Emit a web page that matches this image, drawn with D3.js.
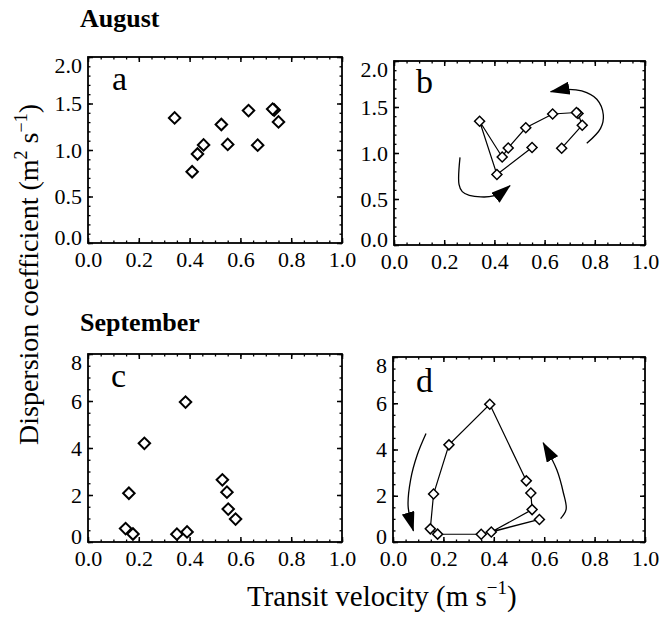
<!DOCTYPE html>
<html>
<head>
<meta charset="utf-8">
<script src="https://cdn.jsdelivr.net/npm/d3@7"></script>
<style>
  body { margin: 0; background: #fff; }
  svg { display: block; }
  text { font-family: "Liberation Serif", "Times New Roman", serif; fill: #000; }
</style>
</head>
<body>
<div id="chart"></div>
<script>
const serif = '"Liberation Serif", "Times New Roman", serif'

// August, in time order (transit velocity m/s, dispersion m2/s)
const augVel  = [0.668, 0.750, 0.733, 0.727, 0.632, 0.525, 0.455, 0.431, 0.341, 0.410, 0.550]
const augDisp = [1.052, 1.302, 1.430, 1.440, 1.424, 1.274, 1.055, 0.957, 1.345, 0.766, 1.060]

// September, in time order
const sepVel  = [0.529, 0.384, 0.222, 0.161, 0.148, 0.177, 0.350, 0.581, 0.390, 0.552, 0.547]
const sepDisp = [2.645, 5.955, 4.200, 2.075, 0.570, 0.340, 0.335, 0.975, 0.430, 1.400, 2.120]

// hand drawn arrows (data units)
const augArrowTopVel  = [0.768, 0.823, 0.834, 0.808, 0.748, 0.694, 0.624]
const augArrowTopDisp = [1.105, 1.268, 1.413, 1.584, 1.674, 1.692, 1.666]
const augArrowBotVel  = [0.263, 0.259, 0.272, 0.300, 0.396, 0.462]
const augArrowBotDisp = [0.953, 0.660, 0.580, 0.540, 0.533, 0.645]
const sepArrowLeftVel   = [0.131, 0.096, 0.070, 0.060, 0.081]
const sepArrowLeftDisp  = [4.69, 3.76, 2.70, 1.55, 0.48]
const sepArrowRightVel  = [0.665, 0.687, 0.676, 0.650, 0.596]
const sepArrowRightDisp = [1.01, 1.41, 2.13, 3.12, 4.29]

const xTicks = [0, 0.2, 0.4, 0.6, 0.8, 1.0]
const augYTicks = [0, 0.5, 1.0, 1.5, 2.0]
const sepYTicks = [0, 2, 4, 6, 8]

const zip = (xs, ys) => xs.map((v, i) => ({x: v, y: ys[i]}))
const aug = zip(augVel, augDisp)
const sep = zip(sepVel, sepDisp)

const width = 672, height = 617

const svg = d3.select('#chart').append('svg')
    .attr('width', width)
    .attr('height', height)

const defs = svg.append('defs')
defs.append('marker')
    .attr('id', 'head')
    .attr('markerUnits', 'userSpaceOnUse')
    .attr('viewBox', '0 0 20 13')
    .attr('markerWidth', 20)
    .attr('markerHeight', 13)
    .attr('refX', 19)
    .attr('refY', 6.5)
    .attr('orient', 'auto')
  .append('path')
    .attr('d', 'M0,0 L20,6.5 L0,13 Z')
    .attr('fill', '#000')

const panels = [
    {name: 'a', box: [88, 342, 243, 57], ymax: 2, yTicks: augYTicks, yMinor: 0.1, data: aug, joined: false, size: 66, sw: 2, lab: [112, 90]},
    {name: 'b', box: [394, 645, 245, 61], ymax: 2, yTicks: augYTicks, yMinor: 0.1, data: aug, joined: true, size: 50, sw: 1.5, lab: [416, 93],
        arrows: [zip(augArrowTopVel, augArrowTopDisp), zip(augArrowBotVel, augArrowBotDisp)]},
    {name: 'c', box: [88, 342, 542, 354], ymax: 8, yTicks: sepYTicks, yMinor: 0.5, data: sep, joined: false, size: 66, sw: 2, lab: [111, 387]},
    {name: 'd', box: [393, 645, 542, 357], ymax: 8, yTicks: sepYTicks, yMinor: 0.5, data: sep, joined: true, size: 50, sw: 1.5, lab: [416, 392],
        arrows: [zip(sepArrowLeftVel, sepArrowLeftDisp), zip(sepArrowRightVel, sepArrowRightDisp)]}
]

panels.forEach(p => {
    const [x0, x1, y0, y1] = p.box
    const x = d3.scaleLinear().domain([0, 1]).range([x0, x1])
    const y = d3.scaleLinear().domain([0, p.ymax]).range([y0, y1])
    const g = svg.append('g').attr('class', 'panel-' + p.name)

    const xMinor = d3.range(0, 1.0001, 0.05)
    const yMinor = d3.range(0, p.ymax + 1e-6, p.yMinor)

    // minor ticks, all four sides, pointing in
    const minor = [
        [d3.axisBottom(x).tickValues(xMinor), `translate(0,${y0})`],
        [d3.axisTop(x).tickValues(xMinor), `translate(0,${y1})`],
        [d3.axisLeft(y).tickValues(yMinor), `translate(${x0},0)`],
        [d3.axisRight(y).tickValues(yMinor), `translate(${x1},0)`]
    ]
    minor.forEach(([ax, tr]) => {
        g.append('g').attr('transform', tr)
            .call(ax.tickSize(-2.5).tickFormat(''))
            .call(s => s.select('.domain').remove())
            .selectAll('line').attr('stroke-width', 1.3)
    })
    const major = [
        [d3.axisBottom(x).tickValues(xTicks).tickFormat(d3.format('.1f')).tickPadding(8), `translate(0,${y0})`],
        [d3.axisTop(x).tickValues(xTicks).tickFormat(''), `translate(0,${y1})`],
        [d3.axisLeft(y).tickValues(p.yTicks).tickFormat(p.ymax > 2 ? d3.format('d') : d3.format('.1f')).tickPadding(6), `translate(${x0},0)`],
        [d3.axisRight(y).tickValues(p.yTicks).tickFormat(''), `translate(${x1},0)`]
    ]
    major.forEach(([ax, tr], i) => {
        const a = g.append('g').attr('transform', tr)
            .call(ax.tickSize(-5))
            .call(s => s.select('.domain').remove())
            .attr('font-family', serif)
            .attr('font-size', 22)
        a.selectAll('line').attr('stroke-width', 1.5)
        a.selectAll('text').attr('font-family', serif).attr('font-size', 22)
        if (i === 2) {
            // end labels are nudged inside the frame
            a.selectAll('text').attr('transform', d => d === p.ymax ? 'translate(0,8)' : d === 0 ? 'translate(0,-6)' : null)
        }
    })

    g.append('rect')
        .attr('x', x0).attr('y', y1)
        .attr('width', x1 - x0).attr('height', y0 - y1)
        .attr('fill', 'none')
        .attr('stroke', '#000')
        .attr('stroke-width', 1.8)

    if (p.joined) {
        g.append('path')
            .datum(p.data)
            .attr('d', d3.line().x(d => x(d.x)).y(d => y(d.y)))
            .attr('fill', 'none')
            .attr('stroke', '#000')
            .attr('stroke-width', 1.2)
    }

    g.selectAll('.pt')
        .data(p.data)
        .join('path')
        .attr('class', 'pt')
        .attr('d', d3.symbol(d3.symbolSquare, p.size))
        .attr('transform', d => `translate(${x(d.x)},${y(d.y)}) rotate(45)`)
        .attr('fill', '#fff')
        .attr('stroke', '#000')
        .attr('stroke-width', p.sw)

    if (p.arrows) {
        g.selectAll('.arrow')
            .data(p.arrows)
            .join('path')
            .attr('class', 'arrow')
            .attr('d', d3.line().curve(d3.curveCatmullRom.alpha(0.5)).x(d => x(d.x)).y(d => y(d.y)))
            .attr('fill', 'none')
            .attr('stroke', '#000')
            .attr('stroke-width', 1.3)
            .attr('marker-end', 'url(#head)')
    }

    g.append('text')
        .attr('x', p.lab[0]).attr('y', p.lab[1])
        .attr('font-family', serif)
        .attr('font-size', 34)
        .text(p.name)
})

// month headings
svg.append('text').attr('x', 80).attr('y', 27)
    .attr('font-family', serif)
    .attr('font-size', 26).attr('font-weight', 'bold')
    .text('August')
svg.append('text').attr('x', 80).attr('y', 331)
    .attr('font-family', serif)
    .attr('font-size', 26).attr('font-weight', 'bold')
    .text('September')

// axis titles
const yt = svg.append('text')
    .attr('transform', 'translate(38,445) rotate(-90)')
    .attr('font-family', serif)
    .attr('font-size', 28)
yt.append('tspan').text('Dispersion coefficient (m')
yt.append('tspan').attr('font-size', 18).attr('dy', -11).text('2')
yt.append('tspan').attr('dy', 11).text(' s')
yt.append('tspan').attr('font-size', 18).attr('dy', -11).text('\u22121')
yt.append('tspan').attr('dy', 11).text(')')

const xt = svg.append('text')
    .attr('x', 247).attr('y', 606)
    .attr('font-family', serif)
    .attr('font-size', 29)
xt.append('tspan').text('Transit velocity (m s')
xt.append('tspan').attr('font-size', 19).attr('dy', -12).text('\u22121')
xt.append('tspan').attr('dy', 12).text(')')
</script>
</body>
</html>
